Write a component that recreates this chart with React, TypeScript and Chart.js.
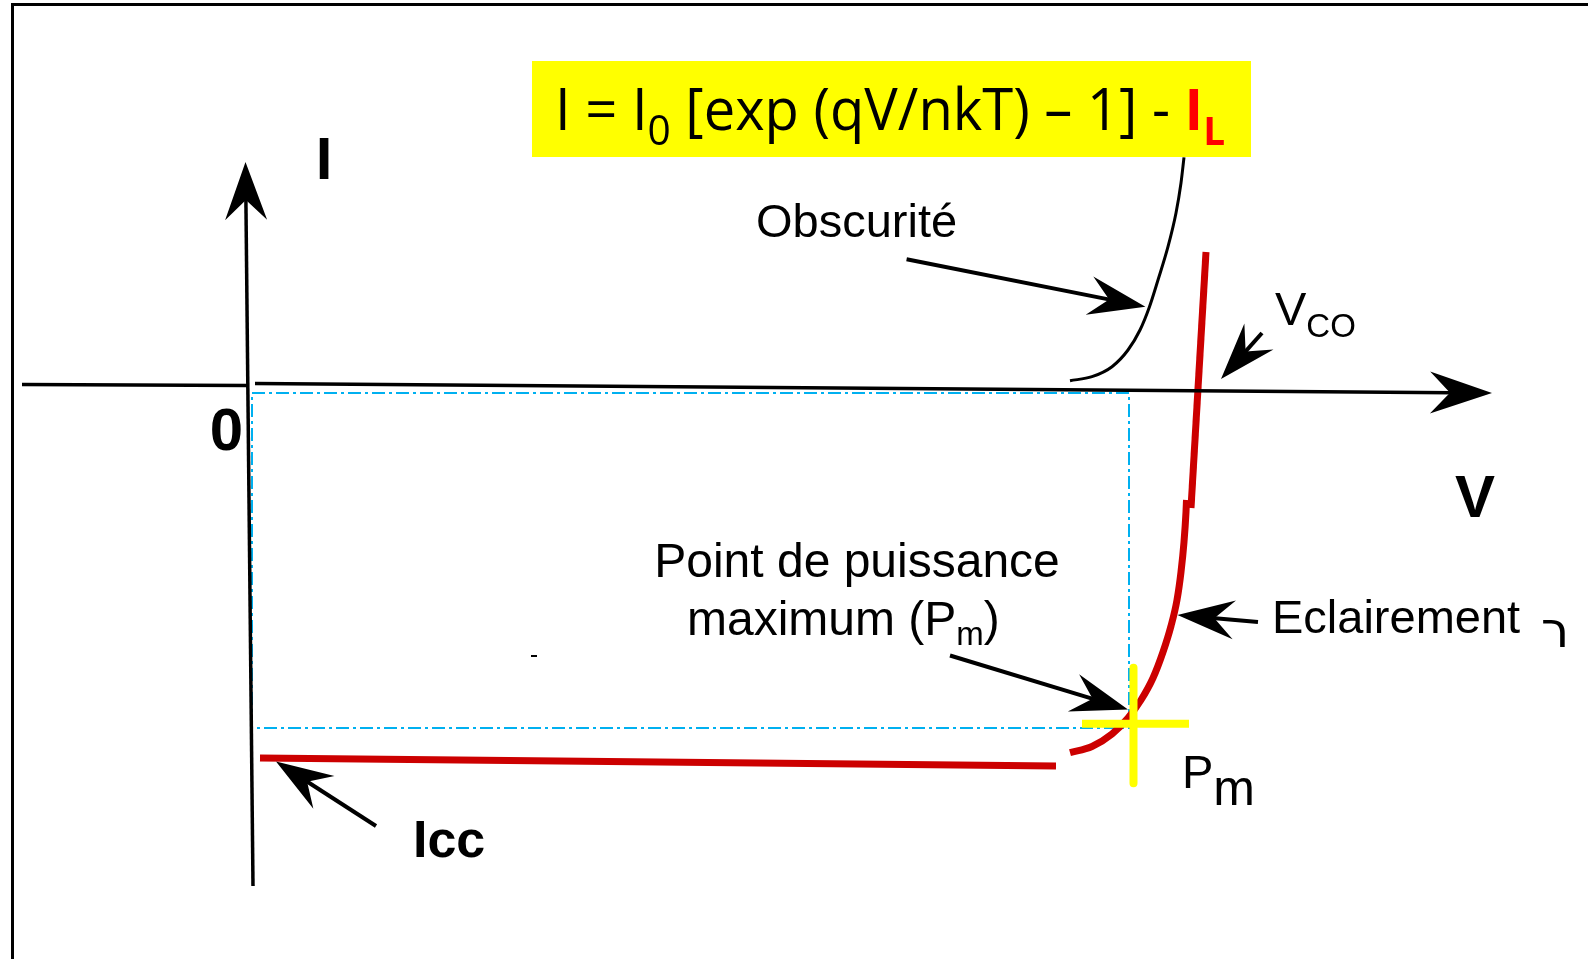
import React, { useEffect, useRef } from "react";
import { Chart, registerables } from "chart.js";

Chart.register(...registerables);

const W = 1588;
const H = 959;

// Diagram units: V to the right, I upward (origin at the axes crossing)
const V_MIN = -24.5;
const V_MAX = 134.3;
const I_MIN = -57.4;
const I_MAX = 38.5;

// Dark characteristic (Obscurité)
const darkV = [82.5, 84.7, 86.7, 88.3, 89.5, 90.45, 91.3, 92.3, 93.1, 93.6, 93.9];
const darkI = [0.43, 0.83, 1.83, 3.5, 5.5, 7.83, 10.5, 13.83, 17.2, 20.2, 22.77];

// Illuminated characteristic (Eclairement): plateau at Icc, knee, steep part
const plateauV = [1.5, 81.1];
const plateauI = [-37.3, -38.1];
const kneeV = [82.5, 84.7, 86.7, 88.3, 89.6, 90.8, 91.8, 92.6, 93.2, 93.6, 93.9, 94.1, 94.15];
const kneeI = [-36.77, -36.15, -34.9, -33.3, -31.5, -29.3, -26.7, -24.1, -21.5, -18.7, -15.7, -12.7, -11.5];
const steepV = [94.6, 96.1];
const steepI = [-12.3, 13.3];

// Maximum power rectangle (Vm, Im) and marker
const rectV = [0.7, 88.4, 88.4, 0.7, 0.7];
const rectI = [-0.8, -0.8, -34.3, -34.3, -0.8];
const crossHV = [83.7, 94.4];
const crossHI = [-33.87, -33.87];
const crossVV = [88.85, 88.85];
const crossVI = [-28.27, -39.83];
const specV = [28.6, 29.2];
const specI = [-27.1, -27.1];

// Axes (tail -> tip)
const axisIV = [0.8, 0.05];
const axisII = [-50.1, 22.3];
const axisVLeftV = [-22.3, 0.3];
const axisVLeftI = [0.05, -0.05];
const axisVV = [1.0, 124.7];
const axisVI = [0.15, -0.8];

// Pointer arrows (tail -> tip)
const arrowObscV = [66.16, 90.04];
const arrowObscI = [12.57, 7.83];
const arrowVcoV = [101.7, 97.6];
const arrowVcoI = [5.2, 0.6];
const arrowEclV = [101.3, 93.25];
const arrowEclI = [-23.7, -23.0];
const arrowPmV = [70.5, 88.3];
const arrowPmI = [-27.05, -32.45];
const arrowIccV = [13.1, 3.1];
const arrowIccI = [-44.1, -37.66];

const pts = (xs: number[], ys: number[]) => xs.map((x, i) => ({ x, y: ys[i] }));

const SANS = '"Liberation Sans", Arial, sans-serif';
const FORMULA_FONT = '"Open Sans", "Liberation Sans", sans-serif';

type Piece = { t: string; size: number; bold?: boolean; color?: string; dy?: number; family?: string };

const LABELS: { v: number; i: number; align: CanvasTextAlign; pieces: Piece[] }[] = [
  { v: 7.9, i: 20.6, align: "center", pieces: [{ t: "I", size: 60, bold: true }] },
  { v: -0.2, i: -6.5, align: "right", pieces: [{ t: "0", size: 60, bold: true }] },
  { v: 123, i: -13.2, align: "center", pieces: [{ t: "V", size: 60, bold: true }] },
  { v: 16.8, i: -47.2, align: "left", pieces: [{ t: "Icc", size: 52, bold: true }] },
  { v: 51.1, i: 14.8, align: "left", pieces: [{ t: "Obscurité", size: 47 }] },
  { v: 103.0, i: 6.0, align: "left", pieces: [{ t: "V", size: 47 }, { t: "CO", size: 33, dy: 12 }] },
  { v: 102.7, i: -24.8, align: "left", pieces: [{ t: "Eclairement", size: 47 }] },
  { v: 129.6, i: -26.2, align: "left", pieces: [{ t: "ר", size: 50, family: '"DejaVu Sans", sans-serif' }] },
  { v: 61.2, i: -19.17, align: "center", pieces: [{ t: "Point de puissance", size: 48 }] },
  { v: 44.2, i: -25.0, align: "left", pieces: [{ t: "maximum (P", size: 48 }, { t: "m", size: 33, dy: 10 }, { t: ")", size: 48 }] },
  { v: 93.7, i: -40.3, align: "left", pieces: [{ t: "P", size: 47 }, { t: "m", size: 50, dy: 17 }] },
];

const FORMULA_BOX = { v0: 28.7, i0: 32.4, v1: 100.6, i1: 22.8 };
const FORMULA = { v: 31.0, i: 25.5, width: 67.0 };
const FORMULA_PIECES: Piece[] = [
  { t: "I = I", size: 58, family: FORMULA_FONT },
  { t: "0", size: 42, dy: 15, family: FORMULA_FONT },
  { t: " [exp (qV/nkT) – 1] - ", size: 58, family: FORMULA_FONT },
  { t: "I", size: 58, bold: true, color: "#FF0000", family: FORMULA_FONT },
  { t: "L", size: 40, bold: true, color: "#FF0000", dy: 15, family: FORMULA_FONT },
];

const fontOf = (p: Piece) => `${p.bold ? "bold " : ""}${p.size}px ${p.family || SANS}`;

function drawArrow(ctx: CanvasRenderingContext2D, x0: number, y0: number, x1: number, y1: number, L: number, Wd: number, N: number, lw: number) {
  const dx = x1 - x0, dy = y1 - y0;
  const len = Math.hypot(dx, dy);
  const ux = dx / len, uy = dy / len;
  const nx = -uy, ny = ux;
  ctx.save();
  ctx.strokeStyle = "#000";
  ctx.fillStyle = "#000";
  ctx.lineWidth = lw;
  ctx.lineCap = "butt";
  ctx.beginPath();
  ctx.moveTo(x0, y0);
  ctx.lineTo(x1 - ux * (N - 2), y1 - uy * (N - 2));
  ctx.stroke();
  ctx.beginPath();
  ctx.moveTo(x1, y1);
  ctx.lineTo(x1 - ux * L + nx * Wd, y1 - uy * L + ny * Wd);
  ctx.lineTo(x1 - ux * N, y1 - uy * N);
  ctx.lineTo(x1 - ux * L - nx * Wd, y1 - uy * L - ny * Wd);
  ctx.closePath();
  ctx.fill();
  ctx.restore();
}

const diagramPlugin = {
  id: "diagram",
  beforeDatasetsDraw(chart: any) {
    const { ctx, scales } = chart;
    const X = (v: number) => scales.x.getPixelForValue(v);
    const Y = (i: number) => scales.y.getPixelForValue(i);
    ctx.save();
    ctx.fillStyle = "#FFFF00";
    const bx = X(FORMULA_BOX.v0), by = Y(FORMULA_BOX.i0);
    ctx.fillRect(bx, by, X(FORMULA_BOX.v1) - bx, Y(FORMULA_BOX.i1) - by);
    // formula text, fitted to its width
    let total = 0;
    const widths = FORMULA_PIECES.map((p) => {
      ctx.font = fontOf(p);
      const w = ctx.measureText(p.t).width;
      total += w;
      return w;
    });
    const target = X(FORMULA.v + FORMULA.width) - X(FORMULA.v);
    const s = target / total;
    ctx.translate(X(FORMULA.v), Y(FORMULA.i));
    ctx.scale(s, 1);
    ctx.textBaseline = "alphabetic";
    ctx.textAlign = "left";
    let cx = 0;
    FORMULA_PIECES.forEach((p, k) => {
      ctx.font = fontOf(p);
      ctx.fillStyle = p.color || "#000";
      ctx.fillText(p.t, cx, p.dy || 0);
      cx += widths[k];
    });
    ctx.restore();
  },
  afterDatasetsDraw(chart: any) {
    const { ctx, scales } = chart;
    const X = (v: number) => scales.x.getPixelForValue(v);
    const Y = (i: number) => scales.y.getPixelForValue(i);

    // axes
    ctx.save();
    ctx.strokeStyle = "#000";
    ctx.lineWidth = 3.5;
    ctx.beginPath();
    ctx.moveTo(X(axisVLeftV[0]), Y(axisVLeftI[0]));
    ctx.lineTo(X(axisVLeftV[1]), Y(axisVLeftI[1]));
    ctx.stroke();
    ctx.restore();
    drawArrow(ctx, X(axisIV[0]), Y(axisII[0]), X(axisIV[1]), Y(axisII[1]), 58, 21, 38, 3.5);
    drawArrow(ctx, X(axisVV[0]), Y(axisVI[0]), X(axisVV[1]), Y(axisVI[1]), 62, 21, 42, 3.5);

    // pointer arrows
    const arrows = [
      [arrowObscV, arrowObscI],
      [arrowVcoV, arrowVcoI],
      [arrowEclV, arrowEclI],
      [arrowPmV, arrowPmI],
      [arrowIccV, arrowIccI],
    ];
    arrows.forEach(([av, ai]) => drawArrow(ctx, X(av[0]), Y(ai[0]), X(av[1]), Y(ai[1]), 57, 19.5, 37, 4));

    // labels
    ctx.save();
    ctx.textBaseline = "alphabetic";
    ctx.fillStyle = "#000";
    LABELS.forEach((lab) => {
      let total = 0;
      const widths = lab.pieces.map((p) => {
        ctx.font = fontOf(p);
        const w = ctx.measureText(p.t).width;
        total += w;
        return w;
      });
      let x = X(lab.v);
      if (lab.align === "center") x -= total / 2;
      if (lab.align === "right") x -= total;
      const y = Y(lab.i);
      ctx.textAlign = "left";
      ctx.direction = "ltr";
      lab.pieces.forEach((p, k) => {
        ctx.font = fontOf(p);
        ctx.fillStyle = p.color || "#000";
        ctx.fillText(p.t, x, y + (p.dy || 0));
        x += widths[k];
      });
    });
    ctx.restore();
  },
};

export default function App() {
  const ref = useRef<HTMLCanvasElement>(null);
  useEffect(() => {
    const line = (data: any, color: string, width: number, extra: any = {}) => ({
      data,
      showLine: true,
      fill: false,
      pointRadius: 0,
      pointHoverRadius: 0,
      borderColor: color,
      backgroundColor: color,
      borderWidth: width,
      borderCapStyle: "butt",
      borderJoinStyle: "round",
      tension: 0,
      ...extra,
    });
    const chart = new Chart(ref.current as HTMLCanvasElement, {
      type: "scatter",
      data: {
        datasets: [
          line(pts(crossHV, crossHI), "#FFFF00", 8, { order: 1 }),
          line(pts(crossVV, crossVI), "#FFFF00", 8, { order: 1 }),
          line(pts(plateauV, plateauI), "#CC0000", 7, { order: 2 }),
          line(pts(kneeV, kneeI), "#CC0000", 7, { order: 2, cubicInterpolationMode: "monotone" }),
          line(pts(steepV, steepI), "#CC0000", 7, { order: 2 }),
          line(pts(darkV, darkI), "#000000", 3, { order: 3, cubicInterpolationMode: "monotone" }),
          line(pts(specV, specI), "#000000", 2, { order: 3 }),
          line(pts(rectV, rectI), "#00B0F0", 2, { order: 4, borderDash: [13, 4, 3, 4], borderJoinStyle: "miter" }),
        ],
      } as any,
      options: {
        responsive: false,
        maintainAspectRatio: false,
        animation: false,
        devicePixelRatio: 1,
        events: [],
        layout: { padding: 0 },
        scales: {
          x: { type: "linear", min: V_MIN, max: V_MAX, display: false },
          y: { type: "linear", min: I_MIN, max: I_MAX, display: false },
        },
        plugins: { legend: { display: false }, tooltip: { enabled: false } },
      } as any,
      plugins: [diagramPlugin],
    });
    return () => chart.destroy();
  }, []);
  return (
    <div style={{ position: "fixed", left: 0, top: 0, width: W, height: H, background: "#fff", overflow: "hidden" }}>
      <div
        style={{
          position: "absolute",
          left: 11,
          top: 3,
          width: W,
          height: H,
          borderLeft: "3px solid #000",
          borderTop: "3px solid #000",
        }}
      />
      <canvas ref={ref} width={W} height={H} style={{ position: "absolute", left: 0, top: 0, width: W, height: H }} />
    </div>
  );
}
